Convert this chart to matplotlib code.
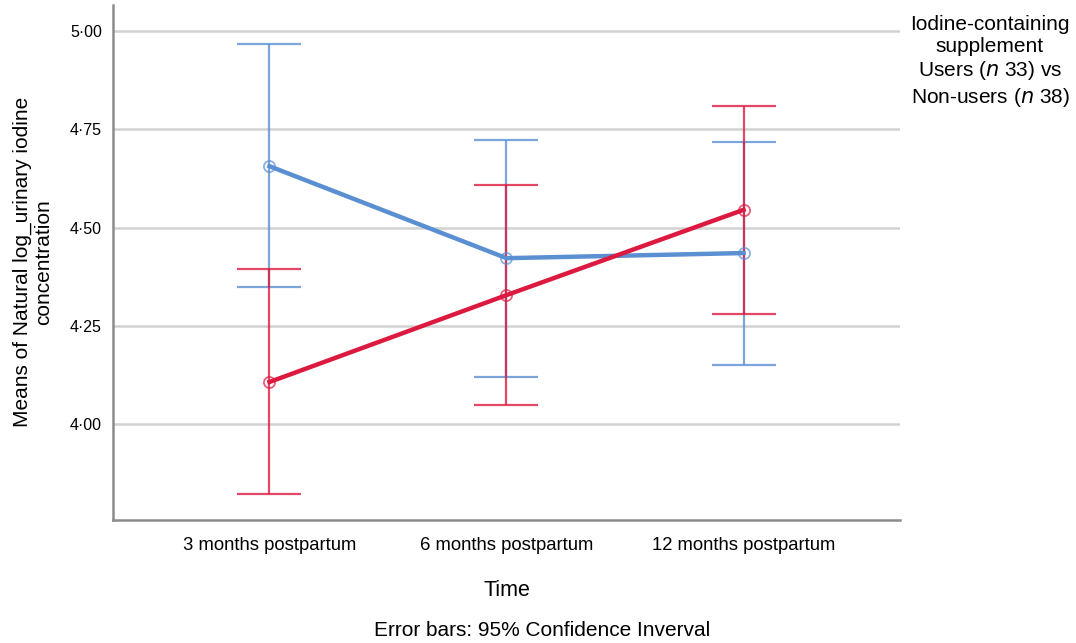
import numpy as np
import matplotlib.pyplot as plt
from matplotlib.ticker import FuncFormatter

plt.rcParams["font.family"] = ["Liberation Sans", "DejaVu Sans"]

times = ['3 months postpartum', '6 months postpartum', '12 months postpartum']
users_mean = [4.656, 4.422, 4.435]
users_lo = [4.349, 4.120, 4.150]
users_hi = [4.967, 4.723, 4.718]
non_mean = [4.107, 4.328, 4.545]
non_lo = [3.822, 4.048, 4.280]
non_hi = [4.394, 4.608, 4.809]
yticks = [4.00, 4.25, 4.50, 4.75, 5.00]

blue = '#5a8fd2'
red = '#dc1a3f'

fig = plt.figure(figsize=(10.76, 6.43), dpi=100)
ax = fig.add_axes([113/1076, 1-520/643, (900-113)/1076, (520-5)/643])

x = np.arange(len(times))
for m, lo, hi, c in [(users_mean, users_lo, users_hi, blue), (non_mean, non_lo, non_hi, red)]:
    m = np.array(m)
    err = [m - np.array(lo), np.array(hi) - m]
    ax.errorbar(x, m, yerr=err, fmt='none', ecolor=c, elinewidth=1.6, capsize=23,
                capthick=1.6, alpha=0.8, zorder=3)
    ax.plot(x, m, color=c, lw=3.2, zorder=4)
    ax.plot(x, m, 'o', ms=8, mfc='none', mec=c, mew=1.3, alpha=0.7, zorder=5)

ax.set_xlim(-0.66, 2.66)
ax.set_ylim(3.756, 5.066)
ax.set_xticks(x)
ax.set_xticklabels(times)
ax.set_yticks(yticks)
ax.yaxis.set_major_formatter(FuncFormatter(lambda v, p: ('%.2f' % v).replace('.', '\u00b7')))
ax.tick_params(axis='y', length=0, labelsize=11.5, pad=8)
ax.tick_params(axis='x', length=0, labelsize=13.3, pad=12)
ax.grid(axis='y', color='#d2d2d2', lw=1.8)
ax.set_axisbelow(True)
for s in ['top', 'right']:
    ax.spines[s].set_visible(False)
for s in ['left', 'bottom']:
    ax.spines[s].set_color('#8c8c8c')
    ax.spines[s].set_linewidth(1.8)

fig.text(33/1076, 1-262/643, 'Means of Natural log_urinary iodine\nconcentration',
         rotation=90, ha='center', va='center', fontsize=15)
fig.text(507/1076, 1-590/643, 'Time', ha='center', va='center', fontsize=15.5)
fig.text(542/1076, 1-630/643, 'Error bars: 95% Confidence Inverval', ha='center', va='center', fontsize=15)
fig.text(990/1076, 1-62/643, 'Iodine-containing\nsupplement\nUsers ($\\it{n}$ 33) vs\nNon-users ($\\it{n}$ 38)',
         ha='center', va='center', fontsize=15, linespacing=1.2)

fig.savefig('out.png', dpi=100)
